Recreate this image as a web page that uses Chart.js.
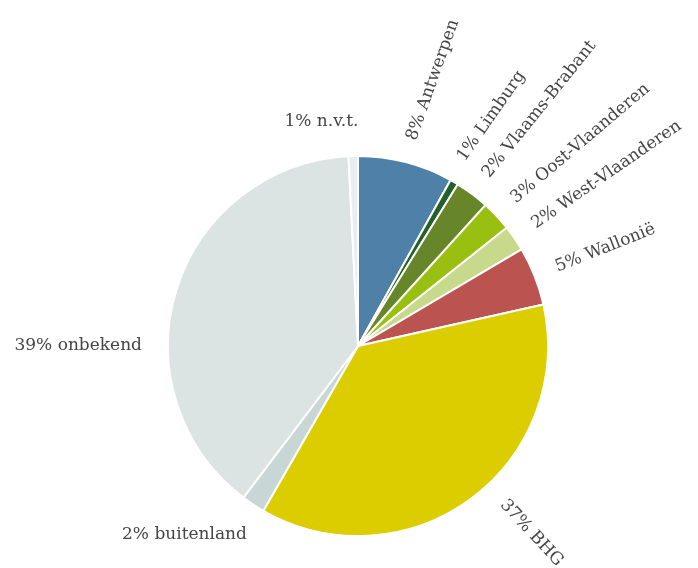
<!DOCTYPE html>
<html>
<head>
<meta charset="utf-8">
<script src="https://cdn.jsdelivr.net/npm/chart.js@4"></script>
<style>
html,body{margin:0;padding:0;background:#fff;}
#wrap{width:698px;height:568px;position:relative;}
</style>
</head>
<body>
<div id="wrap"><canvas id="c" width="698" height="568"></canvas></div>
<script>
const categories = ["Antwerpen","Limburg","Vlaams-Brabant","Oost-Vlaanderen","West-Vlaanderen","Wallonië","BHG","buitenland","onbekend","n.v.t."];
const values = [8.1, 0.7, 2.9, 2.6, 2.2, 5.0, 36.8, 2.0, 38.9, 0.8];
const percentLabels = ["8%","1%","2%","3%","2%","5%","37%","2%","39%","1%"];
const colors = ["#4f80a7","#22622a","#67862a","#99c010","#c7d98a","#bb5450","#dccd00","#c8d7d5","#dbe4e3","#e8eeee"];

// label placement style: rotated radial labels vs horizontal labels
const labelStyle = {
  rotated: [true,true,true,true,true,true,true,false,false,false],
  angleShift: {1:-1.5, 6:-6.5, 7:-3},
  rotTweak: {0:5, 1:6, 2:2, 3:3},
  fixedAngle: {8: 270},
  radius: 213,
  hRadius: {7:219, 8:216, 9:224},
  hDx: {9:6}
};

const labelPlugin = {
  id: 'sliceLabels',
  afterDatasetsDraw(chart) {
    const ctx = chart.ctx;
    const meta = chart.getDatasetMeta(0);
    ctx.save();
    ctx.font = '17px "DejaVu Serif"';
    ctx.fillStyle = '#454545';
    ctx.textBaseline = 'middle';
    meta.data.forEach((arc, i) => {
      const p = arc.getProps(['x','y','startAngle','endAngle']);
      let mid = (p.startAngle + p.endAngle) / 2;
      if (labelStyle.fixedAngle[i] !== undefined) {
        mid = (labelStyle.fixedAngle[i] - 90) * Math.PI / 180;
      } else if (labelStyle.angleShift[i]) {
        mid += labelStyle.angleShift[i] * Math.PI / 180;
      }
      const text = percentLabels[i] + ' ' + categories[i];
      if (labelStyle.rotated[i]) {
        const r = labelStyle.radius;
        const x = p.x + Math.cos(mid) * r;
        const y = p.y + Math.sin(mid) * r;
        ctx.save();
        ctx.translate(x, y);
        ctx.rotate(mid + (labelStyle.rotTweak[i] || 0) * Math.PI / 180);
        ctx.textAlign = 'left';
        ctx.fillText(text, 0, 0);
        ctx.restore();
      } else {
        const r = labelStyle.hRadius[i] || 216;
        const x = p.x + Math.cos(mid) * r + (labelStyle.hDx[i] || 0);
        const y = p.y + Math.sin(mid) * r;
        ctx.textAlign = 'right';
        ctx.fillText(text, x, y);
      }
    });
    ctx.restore();
  }
};

new Chart(document.getElementById('c'), {
  type: 'pie',
  data: {
    labels: categories,
    datasets: [{
      data: values,
      backgroundColor: colors,
      borderColor: '#ffffff',
      borderWidth: 2,
      radius: 190
    }]
  },
  options: {
    responsive: false,
    animation: false,
    layout: { padding: { left: 20, right: 2, top: 156, bottom: 32 } },
    plugins: {
      legend: { display: false },
      tooltip: { enabled: false }
    }
  },
  plugins: [labelPlugin]
});
</script>
</body>
</html>
